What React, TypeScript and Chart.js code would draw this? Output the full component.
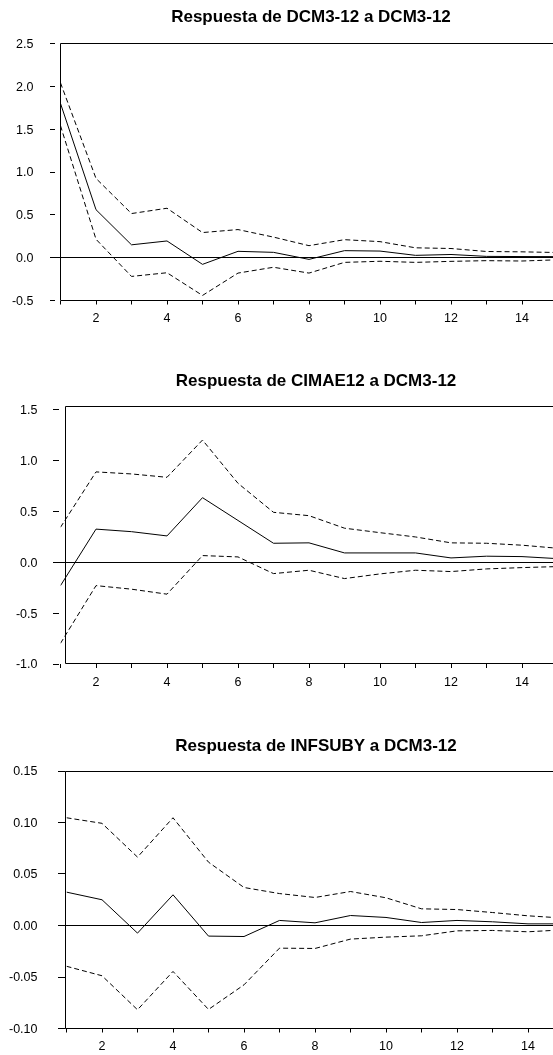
import React, { useEffect, useRef } from 'react';
import { Chart, registerables } from 'chart.js';

Chart.register(...registerables);

// ---------- data ----------
const periods = [1, 2, 3, 4, 5, 6, 7, 8, 9, 10, 11, 12, 13, 14, 15];
const xLabelPeriods = [2, 4, 6, 8, 10, 12, 14];

const titleDcm = 'Respuesta de DCM3-12 a DCM3-12';
const dcmResp = [1.80, 0.56, 0.15, 0.195, -0.078, 0.074, 0.062, -0.02, 0.082, 0.077, 0.027, 0.037, 0.015, 0.013, 0.012];
const dcmUpper = [2.04, 0.925, 0.515, 0.577, 0.293, 0.328, 0.24, 0.14, 0.21, 0.187, 0.115, 0.107, 0.072, 0.068, 0.06];
const dcmLower = [1.54, 0.215, -0.219, -0.176, -0.441, -0.18, -0.112, -0.18, -0.055, -0.042, -0.055, -0.043, -0.035, -0.039, -0.025];
const yTicksDcm = [-0.5, 0, 0.5, 1, 1.5, 2, 2.5];

const titleCimae = 'Respuesta de CIMAE12 a DCM3-12';
const cimaeResp = [-0.23, 0.325, 0.30, 0.258, 0.634, 0.41, 0.186, 0.19, 0.091, 0.091, 0.091, 0.042, 0.059, 0.055, 0.035];
const cimaeUpper = [0.343, 0.887, 0.867, 0.834, 1.20, 0.775, 0.49, 0.457, 0.334, 0.29, 0.248, 0.19, 0.186, 0.167, 0.137];
const cimaeLower = [-0.797, -0.23, -0.265, -0.314, 0.065, 0.052, -0.112, -0.079, -0.161, -0.115, -0.079, -0.092, -0.066, -0.053, -0.043];
const yTicksCimae = [-1, -0.5, 0, 0.5, 1, 1.5];

const titleInf = 'Respuesta de INFSUBY a DCM3-12';
const infResp = [0.0324, 0.025, -0.0074, 0.0298, -0.0103, -0.0107, 0.0049, 0.0026, 0.0097, 0.0078, 0.0029, 0.0049, 0.0036, 0.0016, 0.0016];
const infUpper = [0.1046, 0.0992, 0.0664, 0.1046, 0.0615, 0.0369, 0.031, 0.0272, 0.033, 0.0269, 0.0162, 0.0155, 0.0126, 0.0094, 0.0072];
const infLower = [-0.0396, -0.0488, -0.0818, -0.0446, -0.0815, -0.0576, -0.022, -0.0223, -0.0132, -0.0113, -0.01, -0.0052, -0.0048, -0.0061, -0.0042];
const yTicksInf = [-0.1, -0.05, 0, 0.05, 0.1, 0.15];

// ---------- layout / style ----------
const FONT_FAMILY = '"Liberation Sans", Arial, Helvetica, sans-serif';
const CANVAS_W = 600;
const X_AXIS_H = 30;

type PanelCfg = {
  title: string;
  resp: number[];
  upper: number[];
  lower: number[];
  yTicks: number[];
  decimals: number;
  canvasTop: number;
  height: number;
  left: number;
  right: number;
  top: number;
  bottom: number;
  labelPad: number;
  frameLeft: number;
  frameTop: number;
  frameBottom: number;
  tickStart: number;
  tickEnd: number;
  titleX: number;
  titleBaseline: number;
};

const panels: PanelCfg[] = [
  {
    title: titleDcm, resp: dcmResp, upper: dcmUpper, lower: dcmLower, yTicks: yTicksDcm, decimals: 1,
    canvasTop: 0, height: 340, left: 60.5, right: 557.5, top: 43.5, bottom: 300.5, labelPad: 27,
    frameLeft: 60.5, frameTop: 43.5, frameBottom: 300.5, tickStart: 50, tickEnd: 55,
    titleX: 311, titleBaseline: 22.3,
  },
  {
    title: titleCimae, resp: cimaeResp, upper: cimaeUpper, lower: cimaeLower, yTicks: yTicksCimae, decimals: 1,
    canvasTop: 340, height: 355, left: 60.5, right: 557.5, top: 409.5, bottom: 664, labelPad: 23,
    frameLeft: 65.5, frameTop: 406.5, frameBottom: 663.5, tickStart: 53, tickEnd: 59,
    titleX: 316, titleBaseline: 386,
  },
  {
    title: titleInf, resp: infResp, upper: infUpper, lower: infLower, yTicks: yTicksInf, decimals: 2,
    canvasTop: 695, height: 380, left: 66.5, right: 563.5, top: 771, bottom: 1028.5, labelPad: 29,
    frameLeft: 65.5, frameTop: 771.5, frameBottom: 1028.5, tickStart: 58, tickEnd: 65.5,
    titleX: 316, titleBaseline: 750.7,
  },
];

const crisp = (v: number) => Math.floor(v) + 0.5;

const framePlugin = {
  id: 'irfFrame',
  beforeDatasetsDraw(chart: any, _args: any, opts: any) {
    const { ctx, chartArea } = chart;
    const ys = chart.scales.y;
    ctx.save();
    ctx.strokeStyle = '#000';
    ctx.lineWidth = 1;
    ctx.setLineDash([]);
    const fl = opts.frameLeft;
    const ft = opts.frameTop;
    const fb = opts.frameBottom;
    const fr = crisp(chartArea.right);
    ctx.beginPath();
    ctx.rect(fl, ft, fr - fl, fb - ft);
    ctx.stroke();
    // y tick marks
    ctx.beginPath();
    ys.ticks.forEach((t: any) => {
      const y = crisp(ys.getPixelForValue(t.value));
      ctx.moveTo(opts.tickStart, y);
      ctx.lineTo(opts.tickEnd, y);
    });
    ctx.stroke();
    // zero line
    const y0 = crisp(ys.getPixelForValue(0));
    ctx.beginPath();
    ctx.moveTo(opts.tickStart, y0);
    ctx.lineTo(fr, y0);
    ctx.stroke();
    // title
    ctx.fillStyle = '#000';
    ctx.font = 'bold 17px ' + FONT_FAMILY;
    ctx.textAlign = 'center';
    ctx.textBaseline = 'alphabetic';
    ctx.fillText(opts.title, opts.titleX, opts.titleBaseline);
    ctx.restore();
  },
};

function Panel({ cfg }: { cfg: PanelCfg }) {
  const ref = useRef<HTMLCanvasElement | null>(null);

  useEffect(() => {
    if (!ref.current) return;
    const c = cfg;
    const yMin = c.yTicks[0];
    const yMax = c.yTicks[c.yTicks.length - 1];
    const relTop = c.top - c.canvasTop;
    const relBottom = c.bottom - c.canvasTop;
    const padBottom = c.height - relBottom - X_AXIS_H;
    const toPts = (arr: number[]) => periods.map((p, i) => ({ x: p, y: arr[i] }));
    const tickFont = { family: FONT_FAMILY, size: 12.5 };

    const chart = new Chart(ref.current, {
      type: 'line',
      data: {
        datasets: [
          {
            label: 'upper',
            data: toPts(c.upper),
            borderColor: '#000',
            borderWidth: 1,
            borderDash: [5, 3],
            pointRadius: 0,
            tension: 0,
            fill: false,
          },
          {
            label: 'lower',
            data: toPts(c.lower),
            borderColor: '#000',
            borderWidth: 1,
            borderDash: [5, 3],
            pointRadius: 0,
            tension: 0,
            fill: false,
          },
          {
            label: 'resp',
            data: toPts(c.resp),
            borderColor: '#000',
            borderWidth: 1,
            pointRadius: 0,
            tension: 0,
            fill: false,
          },
        ],
      },
      options: {
        animation: false,
        responsive: false,
        devicePixelRatio: 1,
        layout: {
          padding: {
            left: 0,
            right: CANVAS_W - c.right,
            top: relTop,
            bottom: padBottom,
          },
        },
        plugins: {
          legend: { display: false },
          tooltip: { enabled: false },
          title: { display: false },
          irfFrame: {
            title: c.title,
            frameLeft: c.frameLeft,
            frameTop: c.frameTop - c.canvasTop,
            frameBottom: c.frameBottom - c.canvasTop,
            tickStart: c.tickStart,
            tickEnd: c.tickEnd,
            titleX: c.titleX,
            titleBaseline: c.titleBaseline - c.canvasTop,
          },
        } as any,
        scales: {
          x: {
            type: 'linear',
            min: periods[0],
            max: periods[periods.length - 1],
            afterBuildTicks: (s: any) => {
              s.ticks = periods.map((v) => ({ value: v }));
            },
            afterFit: (s: any) => {
              s.height = X_AXIS_H;
            },
            ticks: {
              autoSkip: false,
              maxRotation: 0,
              minRotation: 0,
              padding: 7,
              color: '#000',
              font: tickFont,
              callback: (v: any) => (xLabelPeriods.includes(Number(v)) ? String(v) : ''),
            },
            grid: {
              display: true,
              drawOnChartArea: false,
              drawTicks: true,
              tickLength: 4,
              color: '#000',
              lineWidth: 1,
            },
            border: { display: false },
          },
          y: {
            type: 'linear',
            min: yMin,
            max: yMax,
            afterBuildTicks: (s: any) => {
              s.ticks = c.yTicks.map((v) => ({ value: v }));
            },
            afterFit: (s: any) => {
              s.width = c.left;
            },
            ticks: {
              autoSkip: false,
              padding: c.labelPad,
              labelOffset: 1,
              color: '#000',
              font: tickFont,
              callback: (v: any) => Number(v).toFixed(c.decimals),
            },
            grid: { display: false, drawTicks: false },
            border: { display: false },
          },
        },
      } as any,
      plugins: [framePlugin as any],
    });
    return () => chart.destroy();
  }, [cfg]);

  return (
    <canvas
      ref={ref}
      width={CANVAS_W}
      height={cfg.height}
      style={{ position: 'absolute', left: 0, top: cfg.canvasTop, width: CANVAS_W, height: cfg.height, display: 'block' }}
    />
  );
}

export default function App() {
  return (
    <div
      style={{
        position: 'absolute',
        left: 0,
        top: 0,
        width: 553,
        height: 1055,
        overflow: 'hidden',
        background: '#fff',
      }}
    >
      {panels.map((p) => (
        <Panel key={p.title} cfg={p} />
      ))}
    </div>
  );
}
